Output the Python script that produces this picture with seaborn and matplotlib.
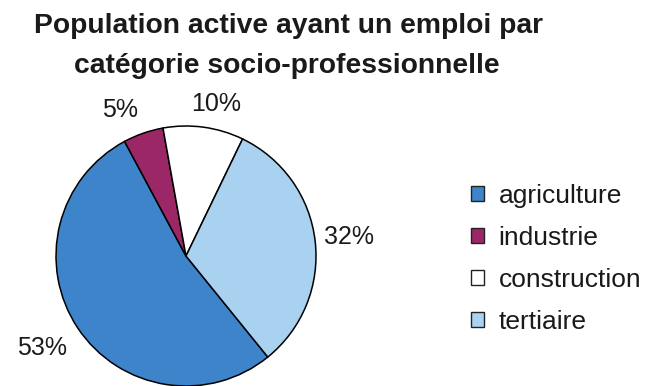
import numpy as np
import matplotlib
matplotlib.use("Agg")
import matplotlib.pyplot as plt
from matplotlib.patches import Patch
import seaborn as sns

# Data: employed labour force by socio-professional category
categories = ["agriculture", "industrie", "construction", "tertiaire"]
shares = [53, 5, 10, 32]
title_lines = ["Population active ayant un emploi par",
               "catégorie socio-professionnelle"]

sns.set_theme(style="white")
plt.rcParams["font.family"] = ["Liberation Sans", "DejaVu Sans"]

colors = ["#3d84cb", "#9b2767", "#ffffff", "#a9d2f1"]

W, H = 650, 386
fig = plt.figure(figsize=(W / 100, H / 100), dpi=100)
fig.patch.set_facecolor("white")

# Pie axes: centre at (186, 256) px from top-left, radius 130 px
cx, cy, r = 186, 256, 130
ax = fig.add_axes([(cx - r) / W, (H - cy - r) / H, 2 * r / W, 2 * r / H])

wedges, _ = ax.pie(
    shares,
    colors=colors,
    startangle=309,
    counterclock=False,
    radius=1.0,
    wedgeprops=dict(edgecolor="black", linewidth=1.1),
)
ax.set_xlim(-1, 1)
ax.set_ylim(-1, 1)
ax.set_aspect("equal")
ax.axis("off")
for w in wedges:
    w.set_clip_on(False)

# Percentage labels placed outside each wedge (angle shift, radial distance)
label_adjust = [(-1.0, 1.31), (5.0, 1.23), (-3.5, 1.19), (0.0, 1.26)]
for w, val, (dang, dist) in zip(wedges, shares, label_adjust):
    mid = np.deg2rad((w.theta1 + w.theta2) / 2 + dang)
    ax.text(dist * np.cos(mid), dist * np.sin(mid), f"{val}%",
            ha="center", va="center", fontsize=18, color="#1a1a1a",
            clip_on=False)

# Title on two centred lines
fig.text(288 / W, 1 - 33 / H, title_lines[0], ha="center", va="baseline",
         fontsize=20.3, fontweight="bold", color="#1a1a1a")
fig.text(287 / W, 1 - 73 / H, title_lines[1], ha="center", va="baseline",
         fontsize=20.3, fontweight="bold", color="#1a1a1a")

# Legend
handles = [Patch(facecolor=c, edgecolor="#222222", linewidth=1.0) for c in colors]
fig.legend(handles, categories, loc="upper left",
           bbox_to_anchor=(471 / W, 1 - 184 / H),
           frameon=False, fontsize=19, handlelength=0.5, handleheight=0.5,
           handletextpad=0.55, labelspacing=0.68, borderpad=0, borderaxespad=0,
           labelcolor="#1a1a1a")

fig.savefig("out.png", dpi=100, facecolor="white")
